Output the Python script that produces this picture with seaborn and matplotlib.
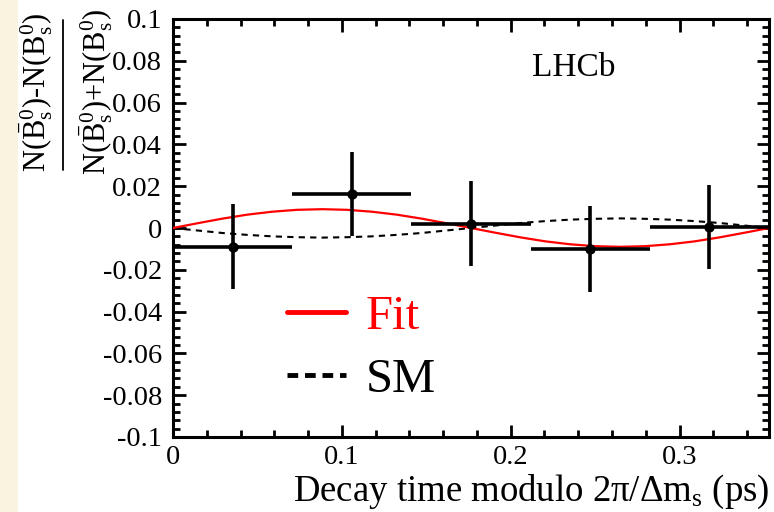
import matplotlib
matplotlib.use("Agg")
import matplotlib.pyplot as plt
import seaborn as sns
import pandas as pd
from matplotlib.lines import Line2D
from matplotlib.patches import Rectangle
from matplotlib.ticker import MultipleLocator, FixedLocator

# ---- data ----
bin_centers = [0.0353, 0.1059, 0.1765, 0.2471, 0.3177]
bin_halfwidth = [0.0353, 0.0353, 0.0353, 0.0353, 0.0353]
asym = [-0.0089, 0.0163, 0.0021, -0.0102, 0.0005]
asym_err = [0.0203, 0.0203, 0.0205, 0.0206, 0.0203]

curve_t = [0.0, 0.0147, 0.0294, 0.0441, 0.0588, 0.0735, 0.0883, 0.1030, 0.1177,
           0.1324, 0.1471, 0.1618, 0.1765, 0.1912, 0.2059, 0.2206, 0.2353, 0.2500,
           0.2648, 0.2795, 0.2942, 0.3089, 0.3236, 0.3383, 0.3530]
fit_vals = [0.0, 0.0023, 0.0045, 0.0064, 0.0078, 0.0087, 0.0090, 0.0087, 0.0078,
            0.0064, 0.0045, 0.0023, 0.0, -0.0023, -0.0045, -0.0064, -0.0078, -0.0087,
            -0.0090, -0.0087, -0.0078, -0.0064, -0.0045, -0.0023, 0.0]
sm_vals = [0.0, -0.0012, -0.0024, -0.0033, -0.0040, -0.0044, -0.0046, -0.0044, -0.0040,
           -0.0033, -0.0024, -0.0012, 0.0, 0.0012, 0.0024, 0.0033, 0.0040, 0.0044,
           0.0046, 0.0044, 0.0040, 0.0033, 0.0024, 0.0012, 0.0]

x_major = [0.0, 0.1, 0.2, 0.3]
x_labels = ["0", "0.1", "0.2", "0.3"]
y_major = [-0.1, -0.08, -0.06, -0.04, -0.02, 0.0, 0.02, 0.04, 0.06, 0.08, 0.1]
y_labels = ["-0.1", "-0.08", "-0.06", "-0.04", "-0.02", "0", "0.02", "0.04", "0.06", "0.08", "0.1"]

SERIF = ["Liberation Serif", "DejaVu Serif"]

# ---- style ----
sns.set_theme(style="white")
plt.rcParams["font.family"] = SERIF
plt.rcParams["mathtext.fontset"] = "custom"
plt.rcParams["mathtext.rm"] = "Liberation Serif"
plt.rcParams["mathtext.it"] = "Liberation Serif:italic"
plt.rcParams["mathtext.bf"] = "Liberation Serif:bold"
for k in ["text.color", "axes.labelcolor", "xtick.color", "ytick.color"]:
    plt.rcParams[k] = "black"

W, H = 774, 512
fig = plt.figure(figsize=(W / 100, H / 100), dpi=100)
fig.patch.set_facecolor("white")
fig.patches.append(Rectangle((0, 0), 18 / W, 1, transform=fig.transFigure,
                             facecolor="#f9f4df", edgecolor="none", zorder=0))
ax = fig.add_axes([173 / W, 75 / H, 596 / W, 418 / H])

df_fit = pd.DataFrame({"t": curve_t, "a": fit_vals})
df_sm = pd.DataFrame({"t": curve_t, "a": sm_vals})
df_pts = pd.DataFrame({"t": bin_centers, "a": asym})

sns.lineplot(data=df_sm, x="t", y="a", ax=ax, color="black", linewidth=1.5,
             linestyle=(0, (3, 2.5)), sort=False, estimator=None, legend=False, zorder=2)
sns.lineplot(data=df_fit, x="t", y="a", ax=ax, color="#ff0000", linewidth=1.6,
             sort=False, estimator=None, legend=False, zorder=3)
ax.errorbar(bin_centers, asym, xerr=bin_halfwidth, yerr=asym_err, fmt="none",
            ecolor="black", elinewidth=2.6, capsize=0, zorder=4)
sns.scatterplot(data=df_pts, x="t", y="a", ax=ax, color="black", s=55,
                edgecolor="black", linewidth=0, zorder=5, legend=False)

ax.set_xlim(0, 0.353)
ax.set_ylim(-0.1, 0.1)
ax.xaxis.set_major_locator(FixedLocator(x_major))
ax.set_xticklabels(x_labels, fontfamily=SERIF, fontsize=20.5)
ax.xaxis.set_minor_locator(MultipleLocator(0.02))
ax.yaxis.set_major_locator(FixedLocator(y_major))
ax.set_yticklabels(y_labels, fontfamily=SERIF, fontsize=20.5)
ax.yaxis.set_minor_locator(MultipleLocator(0.004))

ax.tick_params(which="both", direction="in", top=True, right=True, bottom=True, left=True,
               width=2.0, color="black", labelcolor="black")
ax.tick_params(which="major", length=9)
ax.tick_params(which="minor", length=5)
ax.tick_params(axis="y", pad=8)
ax.tick_params(axis="x", pad=6)
for s in ax.spines.values():
    s.set_visible(True)
    s.set_linewidth(2.2)
    s.set_color("black")
ax.set_xlabel("")
ax.set_ylabel("")

# x axis title
fig.text(769 / W, 1 - 501 / H, r"Decay time modulo 2π/Δm$_{\mathrm{s}}$ (ps)",
         ha="right", va="baseline", fontsize=26.5, color="black")

# y axis title: fraction drawn as numerator, bar, denominator
num = r"$\mathrm{N}(\bar{\mathrm{B}}^{0}_{\mathrm{s}})\text{-}\mathrm{N}(\mathrm{B}^{0}_{\mathrm{s}})$"
den = r"$\mathrm{N}(\bar{\mathrm{B}}^{0}_{\mathrm{s}})\text{+}\mathrm{N}(\mathrm{B}^{0}_{\mathrm{s}})$"
fig.text(36 / W, 1 - 92 / H, num, rotation=90, ha="center", va="center",
         fontsize=22, color="black")
fig.text(96 / W, 1 - 92 / H, den, rotation=90, ha="center", va="center",
         fontsize=22, color="black")
fig.add_artist(Line2D([63 / W, 63 / W], [1 - 20 / H, 1 - 170 / H], transform=fig.transFigure,
                      color="black", linewidth=1.3))

ax.text((574 - 173) / 596, (437 - 68) / 418, "LHCb", transform=ax.transAxes,
        ha="center", va="center", fontsize=24, color="black")

handles = [Line2D([0], [0], color="#ff0000", linewidth=3.5),
           Line2D([0], [0], color="black", linewidth=3.5, linestyle=(0, (2.2, 1.4)))]
leg = ax.legend(handles, ["Fit", "SM"], loc="upper left", bbox_to_anchor=(0.135, 0.42),
                frameon=False, fontsize=35, handlelength=1.2, handletextpad=0.41,
                labelspacing=0.38, borderpad=0.2)
leg.get_texts()[0].set_color("#ff0000")
leg.get_texts()[1].set_color("black")

fig.savefig("out.png", dpi=100)
